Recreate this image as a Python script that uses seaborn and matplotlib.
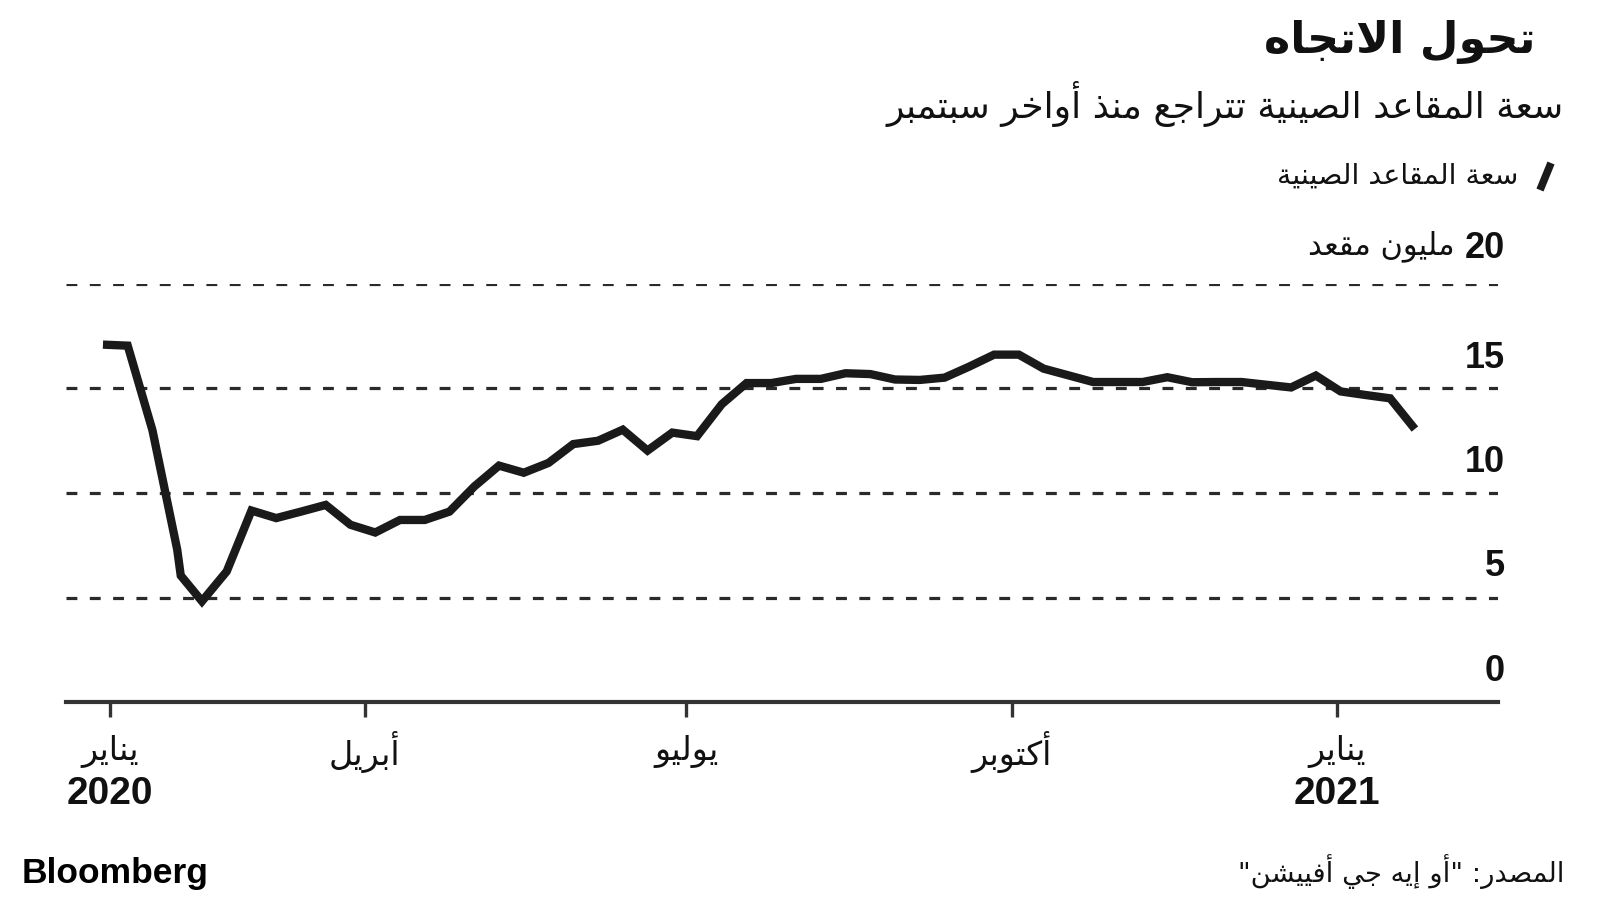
import numpy as np
import pandas as pd
import matplotlib
matplotlib.use("Agg")
import matplotlib.pyplot as plt
import matplotlib.transforms as mtransforms
from matplotlib.lines import Line2D
import seaborn as sns

# ---------------- data ----------------
first_week = "2020-01-18"
weekly_capacity = [17.10, 17.05, 13.00, 7.29, 4.82, 6.25, 9.16, 8.80, 9.11, 9.43,
                   8.48, 8.11, 8.71, 8.71, 9.11, 10.31, 11.31, 10.97, 11.44, 12.34,
                   12.50, 13.03, 12.03, 12.89, 12.72, 14.25, 15.26, 15.26, 15.46, 15.46,
                   15.73, 15.69, 15.43, 15.41, 15.52, 16.05, 16.62, 16.62, 15.95, 15.63,
                   15.31, 15.31, 15.31, 15.54, 15.30, 15.31, 15.31, 15.18, 15.05, 15.62,
                   14.86, 14.69, 14.53, 13.06]
extra_dates = ["2020-02-09"]
extra_values = [6.05]

tick_dates = ["2020-01-20", "2020-04-01", "2020-07-01", "2020-10-01", "2021-01-01"]
tick_months = ["يناير", "أبريل", "يوليو", "أكتوبر", "يناير"]
tick_years = ["2020", "", "", "", "2021"]
y_ticks = [0, 5, 10, 15, 20]

title = "تحول الاتجاه"
subtitle = "سعة المقاعد الصينية تتراجع منذ أواخر سبتمبر"
legend_label = "سعة المقاعد الصينية"
unit_label = "مليون مقعد"
source = "المصدر: \"أو إيه جي أفييشن\""
brand = "Bloomberg"

# ---------------- Arabic shaping (presentation forms + RTL order) ----------------
_DUAL = {'ئ': 0xFE89, 'ب': 0xFE8F, 'ت': 0xFE95, 'ث': 0xFE99, 'ج': 0xFE9D, 'ح': 0xFEA1,
         'خ': 0xFEA5, 'س': 0xFEB1, 'ش': 0xFEB5, 'ص': 0xFEB9, 'ض': 0xFEBD, 'ط': 0xFEC1,
         'ظ': 0xFEC5, 'ع': 0xFEC9, 'غ': 0xFECD, 'ف': 0xFED1, 'ق': 0xFED5, 'ك': 0xFED9,
         'ل': 0xFEDD, 'م': 0xFEE1, 'ن': 0xFEE5, 'ه': 0xFEE9, 'ي': 0xFEF1}
_RIGHT = {'آ': 0xFE81, 'أ': 0xFE83, 'ؤ': 0xFE85, 'إ': 0xFE87, 'ا': 0xFE8D, 'ة': 0xFE93,
          'د': 0xFEA9, 'ذ': 0xFEAB, 'ر': 0xFEAD, 'ز': 0xFEAF, 'و': 0xFEED, 'ى': 0xFEEF}
_NONE = {'ء': 0xFE80}
_LAMALEF = {'آ': 0xFEF5, 'أ': 0xFEF7, 'إ': 0xFEF9, 'ا': 0xFEFB}


def shape(s):
    tokens = []
    i = 0
    while i < len(s):
        c = s[i]
        if c == 'ل' and i + 1 < len(s) and s[i + 1] in _LAMALEF:
            tokens.append(('LA', _LAMALEF[s[i + 1]]))
            i += 2
        else:
            tokens.append((c, None))
            i += 1

    def jt(t):
        c = t[0]
        if c == 'LA':
            return 'R'
        if c in _DUAL:
            return 'D'
        if c in _RIGHT:
            return 'R'
        return 'U'

    out = []
    for j, t in enumerate(tokens):
        kind = jt(t)
        pj = jt(tokens[j - 1]) if j > 0 else 'U'
        nj = jt(tokens[j + 1]) if j + 1 < len(tokens) else 'U'
        cp = kind in 'DR' and pj == 'D'
        cn = kind == 'D' and nj in 'DR'
        c, base = t
        if c == 'LA':
            out.append(chr(base + (1 if cp else 0)))
        elif kind == 'D':
            b = _DUAL[c]
            out.append(chr(b + (3 if (cp and cn) else 1 if cp else 2 if cn else 0)))
        elif kind == 'R':
            out.append(chr(_RIGHT[c] + (1 if cp else 0)))
        elif c in _NONE:
            out.append(chr(_NONE[c]))
        else:
            out.append(c)
    return ''.join(reversed(out))


# ---------------- figure ----------------
sns.set_theme(style="white")
AR = ['DejaVu Sans']
NUM = ['Liberation Sans Narrow', 'Liberation Sans', 'DejaVu Sans']
NUMW = ['Liberation Sans', 'DejaVu Sans']
plt.rcParams['font.family'] = AR

W, H = 1600, 900
fig = plt.figure(figsize=(16, 9), dpi=100)
fig.patch.set_facecolor("white")


def fx(px):
    return px / W


def fy(py):
    return 1 - py / H


ax = fig.add_axes([fx(66), fy(702), fx(1498) - fx(66), fy(284) - fy(702)])
ax.set_facecolor("white")

df = pd.DataFrame({
    "date": list(pd.date_range(first_week, periods=len(weekly_capacity), freq="7D")) +
            list(pd.to_datetime(extra_dates)),
    "value": weekly_capacity + extra_values,
}).sort_values("date")

# grid lines
for yv in y_ticks[1:]:
    ax.axhline(yv, color="#2a2a2a", lw=2.3, linestyle=(0, (3.4, 3.9)), zorder=1)

sns.lineplot(data=df, x="date", y="value", ax=ax, color="#1a1a1a", linewidth=6.0,
             sort=False, zorder=3)
for ln in ax.lines[-1:]:
    ln.set_solid_joinstyle("miter")
    ln.set_solid_capstyle("butt")

t0 = pd.Timestamp(tick_dates[0])
t4 = pd.Timestamp(tick_dates[-1])
ax.set_xlim(t0 - pd.Timedelta(days=12.45), t4 + pd.Timedelta(days=45.5))
ax.set_ylim(0, 20)

for s in ["top", "left", "right"]:
    ax.spines[s].set_visible(False)
ax.spines["bottom"].set_color("#333333")
ax.spines["bottom"].set_linewidth(3.0)
ax.set_xlabel("")
ax.set_ylabel("")
ax.set_yticks([])
ax.set_xticks(pd.to_datetime(tick_dates))
ax.set_xticklabels([])
ax.tick_params(axis="x", direction="out", length=11, width=2.4, color="#333333", bottom=True)

# x labels
tx = mtransforms.blended_transform_factory(ax.transData, fig.transFigure)
for d, m, yr in zip(pd.to_datetime(tick_dates), tick_months, tick_years):
    ax.text(d, fy(752), shape(m), transform=tx, ha="center", va="center",
            fontsize=24, color="#111111", family=AR)
    if yr:
        ax.text(d, fy(794), yr, transform=tx, ha="center", va="center",
                fontsize=28, fontweight="bold", color="#111111", family=NUM)

# y labels (right, above grid lines)
ty = mtransforms.blended_transform_factory(fig.transFigure, ax.transData)
for yv in y_ticks:
    t = ax.text(fx(1505), yv, str(yv), transform=ty, ha="right", va="baseline",
                fontsize=26, fontweight="bold", color="#111111", family=NUMW)
    t.set_transform(mtransforms.offset_copy(ty, fig=fig, x=0, y=21 + (5 if yv == 20 else 0),
                                            units="dots"))
fig.text(fx(1454), fy(246), shape(unit_label), ha="right", va="center",
         fontsize=22, color="#111111", family=AR)

# titles
fig.text(fx(1536), fy(42), shape(title), ha="right", va="center", fontsize=32,
         fontweight="bold", color="#111111", family=AR)
fig.text(fx(1564), fy(104), shape(subtitle), ha="right", va="center", fontsize=26,
         color="#111111", family=AR)

# legend
fig.add_artist(Line2D([fx(1540), fx(1551)], [fy(190), fy(163)], color="#1a1a1a",
                      lw=5.5, solid_capstyle="butt", transform=fig.transFigure))
fig.text(fx(1518), fy(176), shape(legend_label), ha="right", va="center", fontsize=20.5,
         color="#111111", family=AR)

# footer
fig.text(fx(22), fy(873), brand, ha="left", va="center", fontsize=25.5, fontweight="bold",
         color="#000000", family=['Liberation Sans', 'DejaVu Sans'])
fig.text(fx(1564), fy(872), shape(source), ha="right", va="center", fontsize=19.7,
         color="#111111", family=AR)

fig.savefig("out.png", dpi=100, facecolor="white")
